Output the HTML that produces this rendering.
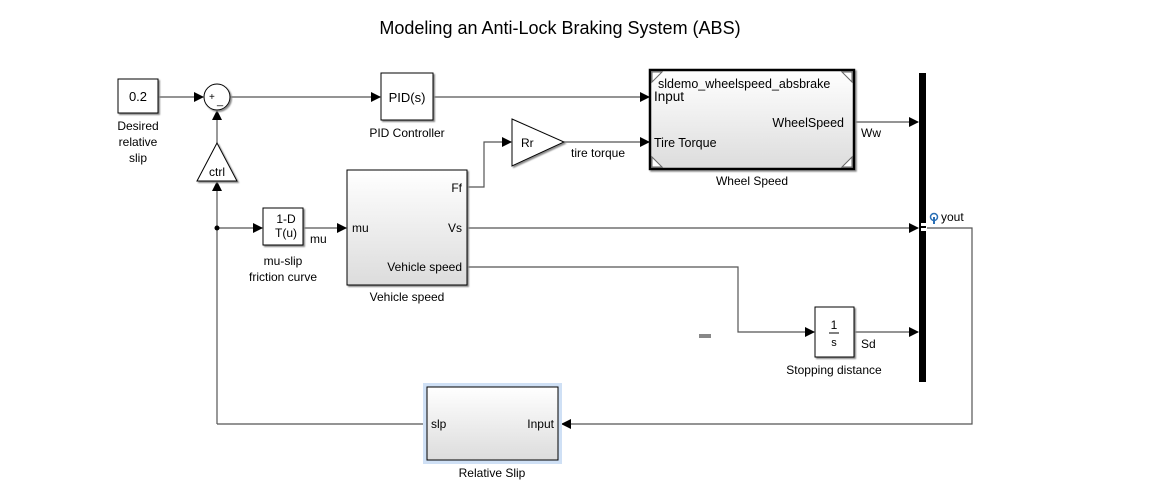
<!DOCTYPE html>
<html><head><meta charset="utf-8"><style>
html,body{margin:0;padding:0;background:#fff;}
svg{display:block;font-family:"Liberation Sans",Arial,sans-serif;}
</style></head><body>
<svg width="1166" height="495" viewBox="0 0 1166 495" xmlns="http://www.w3.org/2000/svg">
<defs>
<linearGradient id="g" x1="0" y1="0" x2="0" y2="1"><stop offset="0" stop-color="#ffffff"/><stop offset="1" stop-color="#dcdcdc"/></linearGradient>
<marker id="a" markerWidth="10" markerHeight="10" refX="9" refY="5" orient="auto" markerUnits="userSpaceOnUse"><path d="M0,0 L10,5 L0,10 z" fill="#000"/></marker>
<filter id="sh"><feDropShadow dx="1.5" dy="1.5" stdDeviation="0.8" flood-color="#888"/></filter>
</defs>
<text x="560" y="34" font-size="18" text-anchor="middle" fill="#000">Modeling an Anti-Lock Braking System (ABS)</text>

<g stroke="#555" stroke-width="1.2" fill="none">
<line x1="158" y1="97" x2="203" y2="97" marker-end="url(#a)"/>
<line x1="230" y1="97" x2="380" y2="97" marker-end="url(#a)"/>
<line x1="433" y1="97" x2="649" y2="97" marker-end="url(#a)"/>
<line x1="217" y1="143" x2="217" y2="111" marker-end="url(#a)"/>
<line x1="217" y1="424" x2="217" y2="182" marker-end="url(#a)"/>
<line x1="217" y1="228" x2="262" y2="228" marker-end="url(#a)"/>
<line x1="303" y1="228" x2="346" y2="228" marker-end="url(#a)"/>
<polyline points="467,187 484,187 484,142 511,142" marker-end="url(#a)"/>
<line x1="564" y1="142" x2="649" y2="142" marker-end="url(#a)"/>
<line x1="854" y1="122" x2="918" y2="122" marker-end="url(#a)"/>
<line x1="467" y1="228" x2="918" y2="228" marker-end="url(#a)"/>
<polyline points="467,267 738,267 738,332 814,332" marker-end="url(#a)"/>
<line x1="854" y1="332" x2="918" y2="332" marker-end="url(#a)"/>
<polyline points="927,228 972,228 972,424 562,424" marker-end="url(#a)"/>
<line x1="427" y1="424" x2="217" y2="424"/>
</g>
<circle cx="217" cy="228" r="2.5" fill="#000"/>

<rect x="118" y="79" width="40" height="34" fill="#fff" stroke="#000" filter="url(#sh)"/>
<text x="138" y="101" font-size="13" text-anchor="middle">0.2</text>
<text x="138" y="130" font-size="12" text-anchor="middle">Desired</text>
<text x="138" y="146" font-size="12" text-anchor="middle">relative</text>
<text x="138" y="162" font-size="12" text-anchor="middle">slip</text>

<circle cx="217" cy="97" r="13" fill="#fff" stroke="#000" filter="url(#sh)"/>
<text x="209" y="100" font-size="10">+</text>
<text x="217" y="104" font-size="11">_</text>

<polygon points="217,143 237,181 197,181" fill="#fff" stroke="#000" filter="url(#sh)"/>
<text x="217" y="176" font-size="12" text-anchor="middle">ctrl</text>

<rect x="381" y="73" width="52" height="47" fill="#fff" stroke="#000" filter="url(#sh)"/>
<text x="407" y="102" font-size="13" text-anchor="middle">PID(s)</text>
<text x="407" y="137" font-size="12" text-anchor="middle">PID Controller</text>

<rect x="263" y="208" width="40" height="37" fill="#fff" stroke="#000" filter="url(#sh)"/>
<text x="286" y="223" font-size="12" text-anchor="middle">1-D</text>
<text x="286" y="237" font-size="12" text-anchor="middle">T(u)</text>
<text x="310" y="243" font-size="12">mu</text>
<text x="283" y="265" font-size="12" text-anchor="middle">mu-slip</text>
<text x="283" y="281" font-size="12" text-anchor="middle">friction curve</text>

<rect x="347" y="170" width="120" height="115" fill="url(#g)" stroke="#000" filter="url(#sh)"/>
<text x="352" y="232" font-size="12">mu</text>
<text x="462" y="192" font-size="12" text-anchor="end">Ff</text>
<text x="462" y="232" font-size="12" text-anchor="end">Vs</text>
<text x="462" y="271" font-size="12" text-anchor="end">Vehicle speed</text>
<text x="407" y="301" font-size="12" text-anchor="middle">Vehicle speed</text>

<polygon points="512,119 564,142 512,166" fill="#fff" stroke="#000" filter="url(#sh)"/>
<text x="521" y="147" font-size="12">Rr</text>
<text x="571" y="157" font-size="12">tire torque</text>

<rect x="650" y="70" width="204" height="99" fill="url(#g)" stroke="#000" stroke-width="2.5" filter="url(#sh)"/>
<g stroke="#666" stroke-width="1" fill="#fff">
<polygon points="652,72 662,72 652,82"/><polygon points="852,72 842,72 852,82"/>
<polygon points="652,167 662,167 652,157"/><polygon points="852,167 842,167 852,157"/>
</g>
<text x="658" y="88" font-size="12.5">sldemo_wheelspeed_absbrake</text>
<text x="654" y="101" font-size="13.5">Input</text>
<text x="654" y="147" font-size="12.5">Tire Torque</text>
<text x="844" y="127" font-size="12.5" text-anchor="end">WheelSpeed</text>
<text x="752" y="185" font-size="12" text-anchor="middle">Wheel Speed</text>
<text x="861" y="137" font-size="12">Ww</text>

<rect x="919" y="73" width="7" height="309" fill="#000"/>
<rect x="921" y="223" width="5" height="3" fill="#fff"/><rect x="921" y="228" width="5" height="3" fill="#fff"/>
<circle cx="934" cy="217" r="3.5" fill="none" stroke="#2a6fb5" stroke-width="1.5"/>
<line x1="934" y1="217" x2="934" y2="224" stroke="#2a6fb5" stroke-width="2"/>
<text x="941" y="221" font-size="12">yout</text>

<rect x="815" y="307" width="39" height="50" fill="#fff" stroke="#000" filter="url(#sh)"/>
<text x="834" y="329" font-size="12" text-anchor="middle">1</text>
<line x1="829" y1="333" x2="839" y2="333" stroke="#000"/>
<text x="834" y="346" font-size="11" text-anchor="middle">s</text>
<text x="861" y="348" font-size="12">Sd</text>
<text x="834" y="374" font-size="12" text-anchor="middle">Stopping distance</text>

<rect x="699" y="334" width="12" height="4" fill="#888"/>

<rect x="423" y="383" width="139" height="81" fill="#cfe0f5"/>
<rect x="427" y="387" width="131" height="73" fill="url(#g)" stroke="#000"/>
<text x="431" y="428" font-size="12">slp</text>
<text x="554" y="428" font-size="12" text-anchor="end">Input</text>
<text x="492" y="477" font-size="12" text-anchor="middle">Relative Slip</text>
</svg>
</body></html>
